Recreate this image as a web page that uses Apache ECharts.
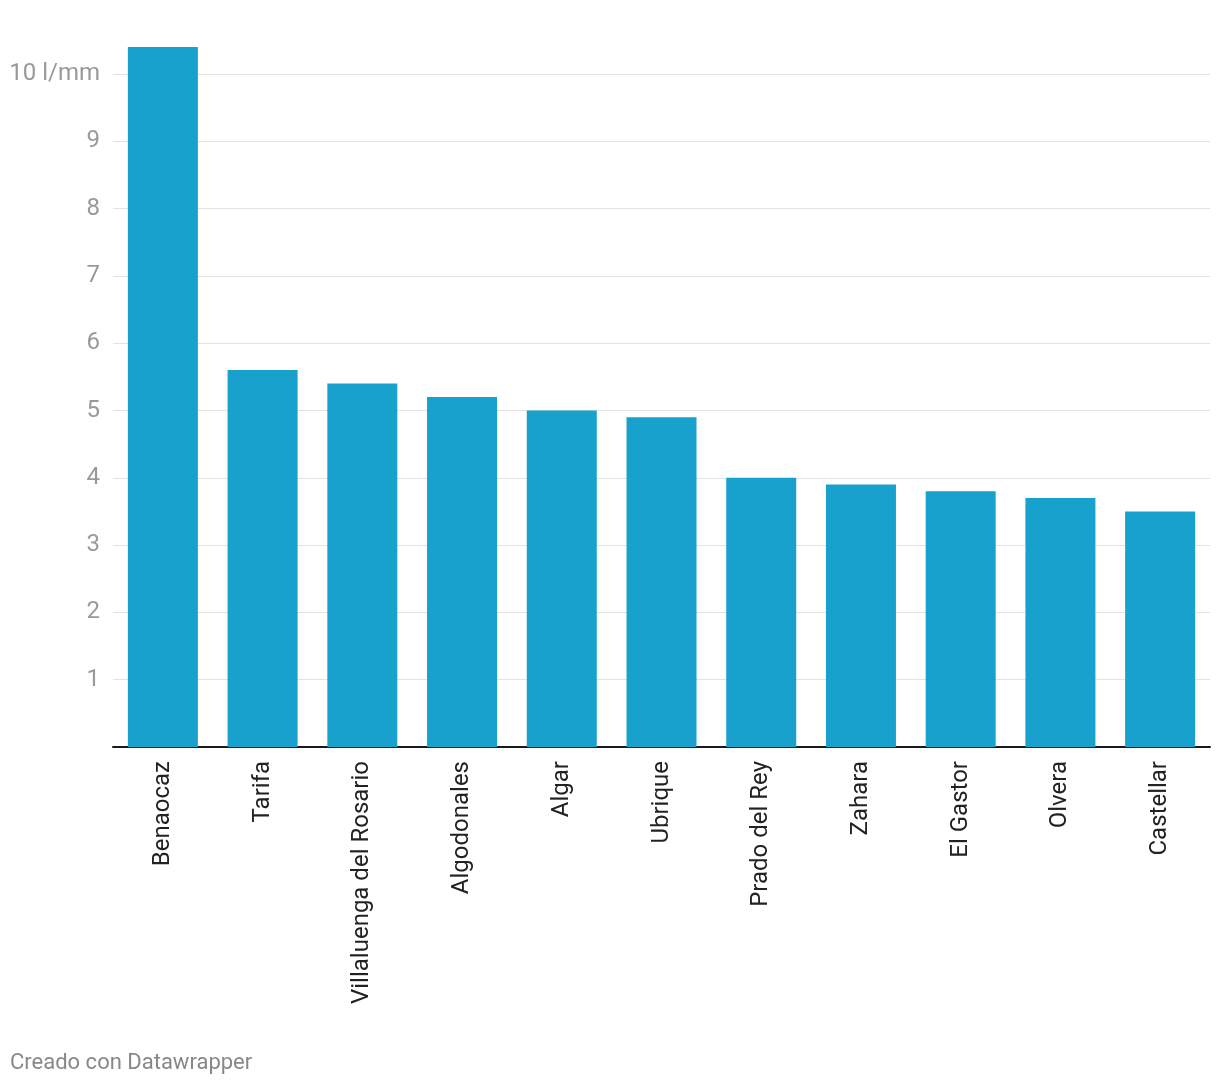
<!DOCTYPE html>
<html>
<head>
<meta charset="utf-8">
<script src="https://cdn.jsdelivr.net/npm/echarts@6/dist/echarts.min.js"></script>
<style>
  html, body { margin: 0; padding: 0; background: #fff; }
  #main { width: 1220px; height: 1088px; }
</style>
</head>
<body>
<div id="main"></div>
<script>
// municipios y lluvia (l/mm)
var municipios = ['Benaocaz', 'Tarifa', 'Villaluenga del Rosario', 'Algodonales', 'Algar', 'Ubrique',
    'Prado del Rey', 'Zahara', 'El Gastor', 'Olvera', 'Castellar'];
var lluvia = [10.4, 5.6, 5.4, 5.2, 5.0, 4.9, 4.0, 3.9, 3.8, 3.7, 3.5];

var myChart = echarts.init(document.getElementById('main'));
var option = {
    animation: false,
    textStyle: { fontFamily: 'Roboto' },
    grid: {
        left: 113,
        right: 10,
        top: 74,
        bottom: 341,
        containLabel: false
    },
    graphic: [{
        type: 'text',
        left: 10,
        top: 1052,
        style: {
            text: 'Creado con Datawrapper',
            fill: '#888',
            font: '22px Roboto'
        }
    }],
    xAxis: {
        type: 'category',
        data: municipios,
        axisLine: { lineStyle: { color: '#1a1a1a', width: 2 } },
        axisTick: { show: false },
        axisLabel: {
            rotate: 90,
            interval: 0,
            margin: 14,
            padding: [0, 0, 0, 0],
            color: '#222',
            fontSize: 24
        }
    },
    yAxis: {
        type: 'value',
        min: 0,
        max: 10,
        interval: 1,
        axisLine: { show: false },
        axisTick: { show: false },
        axisLabel: {
            margin: 13,
            padding: [4, 0, 0, 0],
            color: '#999',
            fontSize: 24,
            formatter: function (v) {
                if (v === 0) return '';
                if (v === 10) return '10 l/mm';
                return v;
            }
        },
        splitLine: { lineStyle: { color: '#e2e2e2', width: 1 } }
    },
    series: [{
        type: 'bar',
        data: lluvia,
        clip: false,
        barWidth: 70,
        itemStyle: { color: '#19a1cd' }
    }]
};
myChart.setOption(option);
</script>
</body>
</html>
